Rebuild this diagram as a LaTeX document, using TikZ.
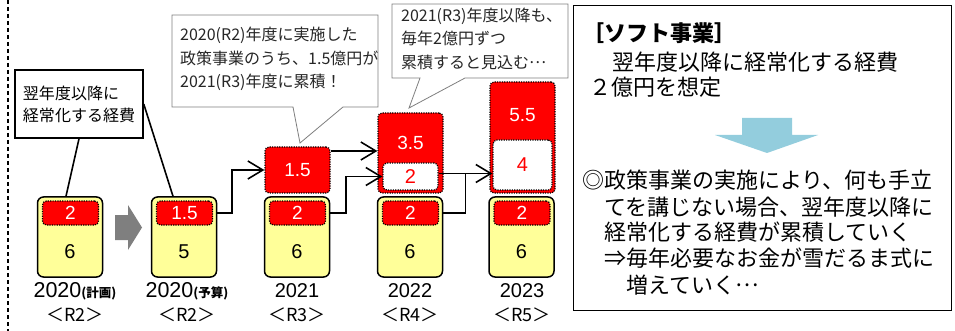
\documentclass[tikz,border=0pt]{standalone}
\usepackage{fontspec}
\setmainfont{Noto Sans CJK JP}
\newfontfamily\numfont{Liberation Sans}
\newcommand\myell{\raisebox{0.3em}{…}}
\usetikzlibrary{arrows.meta,calc}
\definecolor{yel}{HTML}{FFFF99}
\definecolor{rd}{HTML}{FF0000}
\definecolor{blu}{HTML}{93CDDD}
\definecolor{grayarr}{HTML}{7F7F7F}
\definecolor{callgray}{HTML}{7F7F7F}
\definecolor{calltext}{HTML}{262626}
\begin{document}
\begin{tikzpicture}[x=1pt,y=-1pt,
  yelbox/.style={draw=black,line width=1.5pt,fill=yel,rounded corners=6pt,minimum width=65pt,minimum height=80pt,inner sep=0pt},
  dotbox/.style={draw=black,line width=1.2pt,dash pattern=on 1.2pt off 1.2pt,rounded corners=4pt,inner sep=0pt},
  redbox/.style={dotbox,fill=rd},
  whtbox/.style={dotbox,fill=white},
  innum/.style={redbox,minimum width=56pt,minimum height=24pt,text=white,font=\numfont\fontsize{19}{19}\selectfont},
  num/.style={inner sep=0pt,font=\numfont\fontsize{20}{20}\selectfont},
  wnum/.style={inner sep=0pt,text=white,font=\numfont\fontsize{19}{19}\selectfont},
  rnum/.style={text=rd,font=\numfont\fontsize{20}{20}\selectfont},
  yearlab/.style={inner sep=0pt,font=\numfont\fontsize{20}{20}\selectfont},
  rlab/.style={inner sep=0pt,font=\fontsize{18}{18}\selectfont},
  conn/.style={line width=1.6pt,black},
  arr/.style={conn,-{Straight Barb[length=15pt,width=18pt]}},
  callout/.style={draw=callgray,line width=0.8pt,fill=white},
  calltxt/.style={inner sep=0pt,align=left,text=calltext,font=\fontsize{16}{23.5}\selectfont},
  rtxt/.style={anchor=base west,inner sep=0pt,font=\fontsize{22}{22}\selectfont}
]
\useasboundingbox (0,0) rectangle (955,331);

% dashed separator
\draw[line width=1.3pt,dash pattern=on 4pt off 3pt] (8,0) -- (8,331);

% callout 2 and 3 outlines
\draw[callout] (172,15) -- (378,15) -- (378,107) -- (343,107) -- (300,143) -- (293,107) -- (172,107) -- cycle;
\draw[callout] (392,4) -- (568,4) -- (568,78) -- (465,78) -- (409,108) -- (420,78) -- (392,78) -- cycle;
\node[calltxt,anchor=west] (c2t) at (180,59) {2020(R2)年度に実施した\\政策事業のうち、1.5億円が\\2021(R3)年度に累積！};
\node[calltxt,anchor=west] (c3t) at (401,38.5) {2021(R3)年度以降も、\\毎年2億円ずつ\\累積すると見込む\myell};

% yellow boxes
\node[yelbox] (y1) at (70,237) {};
\node[yelbox] (y2) at (184,237) {};
\node[yelbox] (y3) at (297,237) {};
\node[yelbox] (y4) at (410,237) {};
\node[yelbox] (y5) at (521.5,237) {};

\node[innum] (yin1) at (70.5,213) {2};
\node[innum] (yin2) at (184.5,213) {1.5};
\node[innum] (yin3) at (297.5,213) {2};
\node[innum] (yin4) at (410.5,213) {2};
\node[innum] (yin5) at (522,213) {2};

\node[num] (n1) at (70,252) {6};
\node[num] (n2) at (184,252) {5};
\node[num] (n3) at (297,252) {6};
\node[num] (n4) at (410,252) {6};
\node[num] (n5) at (521.5,252) {6};

% year labels
\node[yearlab] (l1) at (75,291) {\fontsize{21.5}{21.5}\selectfont 2020{\rmfamily\bfseries\fontsize{12.5}{12.5}\selectfont (計画)}};
\node[yearlab] (l2) at (187,291) {\fontsize{21.5}{21.5}\selectfont 2020{\rmfamily\bfseries\fontsize{12.5}{12.5}\selectfont (予算)}};
\node[yearlab] (l3) at (297,291) {2021};
\node[yearlab] (l4) at (410,291) {2022};
\node[yearlab] (l5) at (522,291) {2023};
\node[rlab] (r1) at (75,315) {＜R2＞};
\node[rlab] (r2) at (187,315) {＜R2＞};
\node[rlab] (r3) at (297,315) {＜R3＞};
\node[rlab] (r4) at (410,315) {＜R4＞};
\node[rlab] (r5) at (522,315) {＜R5＞};

% accumulated red boxes
\node[redbox,minimum width=65pt,minimum height=46pt,wnum] (r21) at (297.5,170) {1.5};
\node[redbox,minimum width=65pt,minimum height=80pt] (r22) at (410.5,153) {};
\node[wnum] (t22) at (410.5,143) {3.5};
\node[whtbox,minimum width=55pt,minimum height=27pt,rnum] (w22) at (410.5,176.5) {2};
\node[redbox,minimum width=65pt,minimum height=111pt] (r23) at (522.5,137.5) {};
\node[wnum] (t23) at (522.5,115) {5.5};
\node[whtbox,minimum width=59pt,minimum height=50pt,rnum] (w23) at (522.5,165) {4};

% gray arrow
\fill[grayarr] (115,215) -- (128,215) -- (128,205) -- (142,227.5) -- (128,250) -- (128,240) -- (115,240) -- cycle;

% callout 1
\node[draw=black,line width=1.5pt,fill=white,minimum width=128pt,minimum height=68pt,align=left,inner sep=0pt,font=\fontsize{16}{22}\selectfont] (cal1) at (79,104) {翌年度以降に\\経常化する経費};
\draw[conn] (cal1.south) -- ([xshift=-4pt]y1.north);
\draw[conn] (cal1.east) -- ([xshift=-11pt]y2.north);

% connectors
\draw[arr] (yin2 -| y2.east) -- ++(15,0) |- (r21.west);
\draw[arr] ([yshift=19pt]r21.east) -- ([yshift=19pt]r21.east -| r22.west);
\draw[arr] (yin3 -| y3.east) -- ++(16,0) |- (w22.west);
\draw[arr] ([yshift=3pt]w22.east) -- ([yshift=3pt]w22.east -| w23.west);
\coordinate (j) at ($([yshift=3pt]w22.east)!0.5!([yshift=3pt]w22.east -| w23.west)$);
\draw[conn] (yin4 -| y4.east) -| (j);

% right explanation box
\node[draw=black,line width=1pt,minimum width=378pt,minimum height=305pt,inner sep=0pt,anchor=north west] (rbox) at (573,5) {};
\node[rtxt,font=\bfseries\fontsize{22}{22}\selectfont] (rt1) at (582,41.4) {［ソフト事業］};
\node[rtxt] (rt2) at (590,70.4) {　翌年度以降に経常化する経費};
\node[rtxt] (rt3) at (589,95.4) {２億円を想定};
\fill[blu] (742,118) -- (792,118) -- (792,135) -- (818,135) -- (767,153) -- (715,135) -- (742,135) -- cycle;
\node[rtxt] (rb1) at (582,188.4) {◎政策事業の実施により、何も手立};
\node[rtxt] (rb2) at (582,215.4) {　てを講じない場合、翌年度以降に};
\node[rtxt] (rb3) at (582,240.4) {　経常化する経費が累積していく};
\node[rtxt] (rb4) at (582,266.4) {　⇒毎年必要なお金が雪だるま式に};
\node[rtxt] (rb5) at (582,293.4) {　　増えていく\myell};
\end{tikzpicture}
\end{document}
